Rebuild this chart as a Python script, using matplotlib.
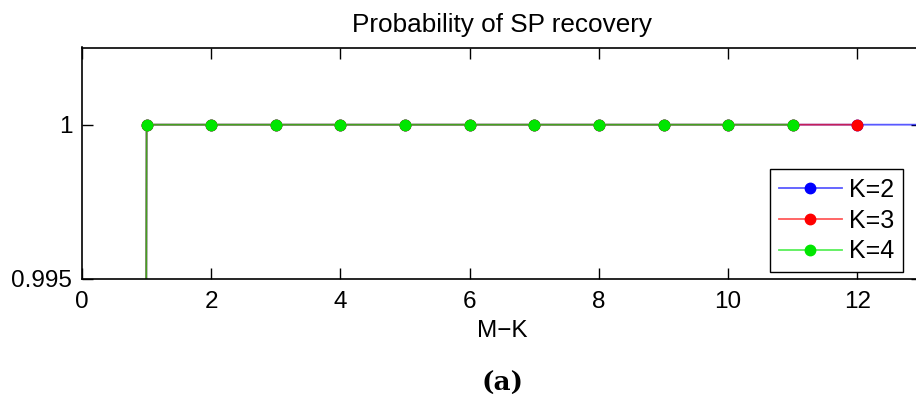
import numpy as np
import matplotlib.pyplot as plt

plt.rcParams['font.family'] = ['Liberation Sans', 'DejaVu Sans']

mk = np.arange(0, 14)
p_k2 = [0, 1, 1, 1, 1, 1, 1, 1, 1, 1, 1, 1, 1, 1]
p_k3 = [0, 1, 1, 1, 1, 1, 1, 1, 1, 1, 1, 1, 1]
p_k4 = [0, 1, 1, 1, 1, 1, 1, 1, 1, 1, 1, 1]
labels = ['K=2', 'K=3', 'K=4']
colors = [(0, 0, 1), (1, 0, 0), (0, 0.9, 0)]

fig = plt.figure(figsize=(9.16, 4.03), dpi=100)
ax = fig.add_axes([82/916, 124/403, 840/916, 231.5/403])

for ys, lab, c in zip([p_k2, p_k3, p_k4], labels, colors):
    ax.plot(mk[:len(ys)], ys, '-', color=c + (0.65,), lw=1.3,
            marker='o', ms=7.5, mfc=c, mec=c, label=lab)

ax.set_xlim(0, 13)
ax.set_ylim(0.995, 1.0025)
ax.set_xticks(range(0, 13, 2))
ax.set_yticks([0.995, 1])
ax.set_yticklabels(['0.995', '1'])
ax.tick_params(direction='in', length=8, width=1, labelsize=17.5,
               top=True, right=True)
ax.tick_params(axis='x', pad=9)
ax.tick_params(axis='y', pad=7)
for s in ax.spines.values():
    s.set_linewidth(1.2)

ax.set_title('Probability of SP recovery', fontsize=18.8, pad=11)
ax.set_xlabel('M\u2212K', fontsize=17.5, labelpad=5)

leg = ax.legend(loc='lower right', bbox_to_anchor=(903/916, 131/403),
                bbox_transform=fig.transFigure, fontsize=18, fancybox=False,
                edgecolor='black', framealpha=1, borderaxespad=0,
                handlelength=2.5, handletextpad=0.3, labelspacing=0.27,
                borderpad=0.35)
leg.get_frame().set_linewidth(1.0)

fig.text(502/916, 1 - 383/403, '(a)', ha='center', va='center',
         fontsize=19, fontweight='bold', family='DejaVu Serif')

plt.savefig('out.png', dpi=100)
